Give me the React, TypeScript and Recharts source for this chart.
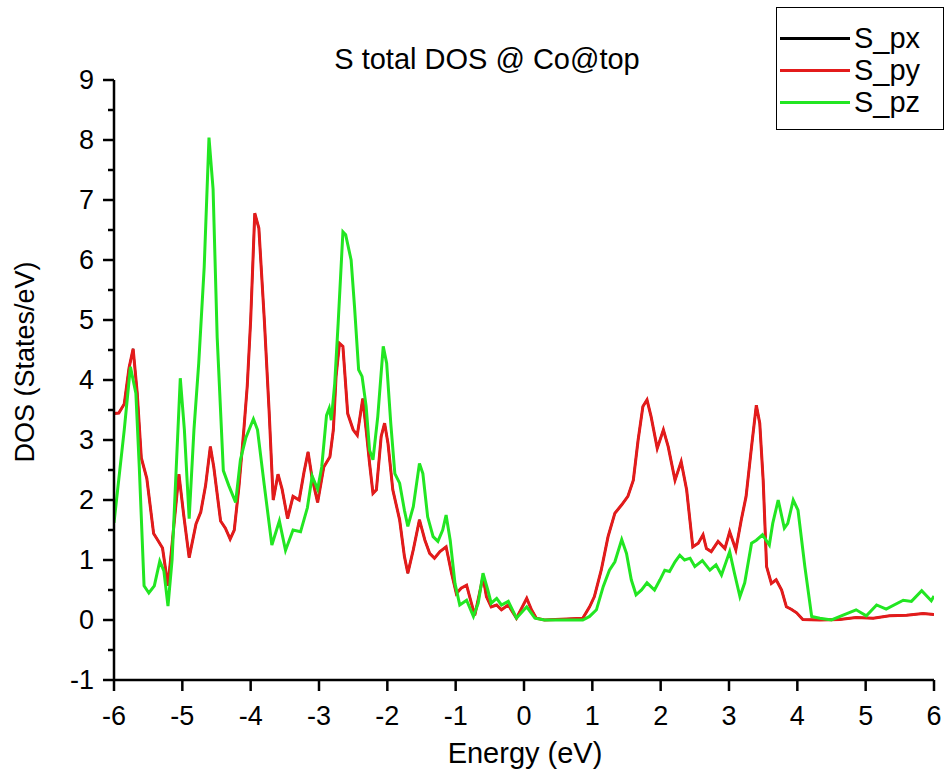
import { LineChart, Line, XAxis, YAxis, Label } from "recharts";

const FONT = "Arial, 'Liberation Sans', sans-serif";

const energyTicks = [-6, -5, -4, -3, -2, -1, 0, 1, 2, 3, 4, 5, 6];
const dosTicks = [-1, -0.5, 0, 0.5, 1, 1.5, 2, 2.5, 3, 3.5, 4, 4.5, 5, 5.5, 6, 6.5, 7, 7.5, 8, 8.5, 9];

const seriesNames = ["S_px", "S_py", "S_pz"];
const seriesColors = ["#000000", "#e31b1b", "#22e622"];
const seriesWidths = [2, 3, 3];

// S_py (red); S_px sits exactly underneath it
const pyEnergy = [
  -6.0, -5.93, -5.85, -5.78, -5.72, -5.66, -5.6, -5.52, -5.42, -5.37, -5.29, -5.21, -5.05, -4.98, -4.9,
  -4.8, -4.73, -4.66, -4.59, -4.54, -4.44, -4.37, -4.3, -4.24, -4.17, -4.1, -4.05, -4.0, -3.94, -3.88,
  -3.8, -3.73, -3.67, -3.6, -3.54, -3.46, -3.38, -3.29, -3.22, -3.16, -3.1, -3.02, -2.93, -2.84, -2.79,
  -2.75, -2.7, -2.65, -2.58, -2.5, -2.44, -2.36, -2.31, -2.26, -2.21, -2.16, -2.09, -2.04, -1.99, -1.92,
  -1.82, -1.75, -1.7, -1.62, -1.53, -1.45, -1.38, -1.31, -1.23, -1.14, -1.06, -0.99, -0.92, -0.84, -0.77,
  -0.72, -0.6, -0.55, -0.48, -0.4, -0.33, -0.23, -0.11, 0.04, 0.11, 0.18, 0.3, 0.86, 0.96, 1.03,
  1.13, 1.23, 1.33, 1.43, 1.52, 1.6, 1.67, 1.74, 1.8, 1.86, 1.95, 2.04, 2.11, 2.21, 2.3,
  2.38, 2.47, 2.55, 2.62, 2.67, 2.74, 2.84, 2.94, 3.01, 3.1, 3.18, 3.25, 3.33, 3.4, 3.45,
  3.5, 3.55, 3.62, 3.69, 3.77, 3.84, 3.91, 3.99, 4.08, 4.33, 4.62, 4.86, 5.11, 5.35, 5.6,
  5.84, 6.0,
];
const pyDos = [
  3.44, 3.45, 3.6, 4.2, 4.52, 3.78, 2.7, 2.36, 1.44, 1.35, 1.2, 0.57, 2.43, 1.75, 1.04,
  1.6, 1.8, 2.24, 2.89, 2.55, 1.65, 1.53, 1.35, 1.5, 2.24, 3.17, 3.9, 5.0, 6.78, 6.53,
  5.0, 3.48, 2.0, 2.43, 2.18, 1.69, 2.06, 2.0, 2.46, 2.8, 2.36, 1.96, 2.55, 2.72, 3.17,
  4.06, 4.61, 4.56, 3.44, 3.17, 3.08, 3.69, 3.17, 2.61, 2.11, 2.17, 3.06, 3.28, 2.94, 2.17,
  1.67, 1.06, 0.78, 1.17, 1.67, 1.33, 1.11, 1.03, 1.14, 1.22, 0.78, 0.44, 0.53, 0.58, 0.28,
  0.08, 0.72, 0.39, 0.22, 0.25, 0.17, 0.25, 0.03, 0.36, 0.17, 0.03, 0.0, 0.03, 0.22, 0.39,
  0.83, 1.39, 1.78, 1.92, 2.06, 2.33, 3.0, 3.56, 3.67, 3.39, 2.86, 3.17, 2.89, 2.33, 2.64,
  2.17, 1.22, 1.28, 1.42, 1.19, 1.14, 1.31, 1.19, 1.47, 1.17, 1.67, 2.06, 2.89, 3.58, 3.28,
  2.33, 0.89, 0.61, 0.67, 0.5, 0.22, 0.18, 0.12, 0.01, 0.0, 0.01, 0.04, 0.03, 0.07, 0.08,
  0.11, 0.09,
];

// S_pz (green)
const pzEnergy = [
  -6.0, -5.85, -5.76, -5.68, -5.63, -5.56, -5.49, -5.41, -5.33, -5.27, -5.21, -5.15, -5.03, -4.97, -4.9,
  -4.83, -4.76, -4.68, -4.61, -4.55, -4.49, -4.4, -4.32, -4.22, -4.15, -4.07, -3.96, -3.9, -3.8, -3.69,
  -3.58, -3.49, -3.38, -3.27, -3.17, -3.1, -3.02, -2.96, -2.89, -2.85, -2.82, -2.77, -2.72, -2.65, -2.61,
  -2.53, -2.48, -2.42, -2.37, -2.31, -2.26, -2.21, -2.14, -2.06, -2.01, -1.95, -1.89, -1.82, -1.75, -1.7,
  -1.62, -1.53, -1.48, -1.41, -1.33, -1.26, -1.19, -1.14, -1.08, -1.01, -0.94, -0.84, -0.74, -0.67, -0.6,
  -0.53, -0.48, -0.4, -0.33, -0.23, -0.11, 0.04, 0.16, 0.3, 0.86, 0.96, 1.06, 1.16, 1.25, 1.33,
  1.43, 1.5, 1.57, 1.64, 1.72, 1.8, 1.91, 1.99, 2.06, 2.13, 2.21, 2.28, 2.35, 2.43, 2.5,
  2.61, 2.72, 2.81, 2.89, 3.01, 3.08, 3.16, 3.23, 3.33, 3.4, 3.49, 3.59, 3.64, 3.72, 3.81,
  3.86, 3.94, 4.01, 4.11, 4.21, 4.33, 4.5, 4.67, 4.86, 5.01, 5.16, 5.3, 5.55, 5.67, 5.82,
  5.96, 6.0,
];
const pzDos = [
  1.62, 3.17, 4.22, 3.78, 2.55, 0.57, 0.45, 0.57, 0.98, 0.82, 0.23, 1.0, 4.03, 3.17, 1.69,
  3.17, 4.28, 5.88, 8.04, 7.18, 4.71, 2.49, 2.24, 1.96, 2.67, 3.04, 3.35, 3.17, 2.24, 1.25,
  1.65, 1.16, 1.5, 1.47, 1.87, 2.4, 2.18, 2.55, 3.41, 3.53, 3.33, 3.94, 4.94, 6.47, 6.42,
  6.0, 5.22, 4.17, 4.06, 3.56, 2.83, 2.67, 3.39, 4.56, 4.28, 3.28, 2.44, 2.28, 1.83, 1.56,
  1.89, 2.61, 2.44, 1.72, 1.39, 1.31, 1.5, 1.75, 1.33, 0.61, 0.25, 0.33, 0.06, 0.28, 0.78,
  0.5, 0.28, 0.36, 0.25, 0.31, 0.03, 0.22, 0.03, 0.0, 0.0, 0.06, 0.17, 0.56, 0.83, 0.97,
  1.34, 1.11, 0.67, 0.42, 0.5, 0.62, 0.5, 0.67, 0.83, 0.81, 0.97, 1.08, 1.0, 1.03, 0.89,
  0.99, 0.83, 0.92, 0.75, 1.14, 0.78, 0.39, 0.62, 1.28, 1.33, 1.42, 1.25, 1.61, 2.0, 1.53,
  1.61, 2.0, 1.83, 0.89, 0.06, 0.03, 0.0, 0.08, 0.17, 0.07, 0.25, 0.18, 0.33, 0.31, 0.49,
  0.32, 0.4,
];

const toPoints = (xs: number[], ys: number[]) => xs.map((e, i) => ({ energy: e, dos: ys[i] }));

const pxData = toPoints(pyEnergy, pyDos);
const pyData = toPoints(pyEnergy, pyDos);
const pzData = toPoints(pzEnergy, pzDos);
const seriesData = [pxData, pyData, pzData];

function YTick(props: any) {
  const { x, y, payload } = props;
  const major = Number.isInteger(payload.value);
  return (
    <g>
      <line x1={x - (major ? 11 : 6)} x2={x} y1={y} y2={y} stroke="#000" strokeWidth={2.5} />
      {major && (
        <text x={x - 20} y={y} textAnchor="end" dominantBaseline="central" fontSize={27} fontFamily={FONT} fill="#000">
          {payload.value}
        </text>
      )}
    </g>
  );
}

function XTick(props: any) {
  const { x, y, payload } = props;
  return (
    <g>
      <line x1={x} x2={x} y1={y} y2={y + 11} stroke="#000" strokeWidth={2.5} />
      <text x={x} y={y + 45} textAnchor="middle" fontSize={27} fontFamily={FONT} fill="#000">
        {payload.value}
      </text>
    </g>
  );
}

export default function App() {
  return (
    <div style={{ position: "absolute", left: 0, top: 0, width: 947, height: 775, background: "#fff" }}>
      <LineChart width={947} height={775} data={pyData} margin={{ top: 80, right: 13, bottom: 0, left: 0 }}>
        <XAxis
          type="number"
          dataKey="energy"
          domain={[-6, 6]}
          ticks={energyTicks}
          interval={0}
          allowDataOverflow
          height={95}
          tickSize={0}
          tickMargin={0}
          tickLine={false}
          axisLine={{ stroke: "#000", strokeWidth: 2.5 }}
          tick={<XTick />}
        >
          <Label
            content={() => (
              <text x={525} y={763} textAnchor="middle" fontSize={29} fontFamily={FONT} fill="#000">
                Energy (eV)
              </text>
            )}
          />
        </XAxis>
        <YAxis
          type="number"
          dataKey="dos"
          domain={[-1, 9]}
          ticks={dosTicks}
          interval={0}
          allowDataOverflow
          width={114}
          tickSize={0}
          tickMargin={0}
          tickLine={false}
          axisLine={{ stroke: "#000", strokeWidth: 2.5 }}
          tick={<YTick />}
        >
          <Label
            content={() => (
              <text
                x={25}
                y={362}
                transform="rotate(-90 25 362)"
                textAnchor="middle"
                dominantBaseline="central"
                fontSize={27}
                fontFamily={FONT}
                fill="#000"
              >
                DOS (States/eV)
              </text>
            )}
          />
        </YAxis>
        {seriesNames.map((name, i) => (
          <Line
            key={name}
            data={seriesData[i]}
            dataKey="dos"
            name={name}
            type="linear"
            stroke={seriesColors[i]}
            strokeWidth={seriesWidths[i]}
            dot={false}
            activeDot={false}
            isAnimationActive={false}
          />
        ))}
      </LineChart>
      <div
        style={{
          position: "absolute",
          left: 0,
          width: 974,
          top: 43,
          textAlign: "center",
          fontFamily: FONT,
          fontSize: 29,
          lineHeight: "32px",
          color: "#000",
          pointerEvents: "none",
        }}
      >
        S total DOS @ Co@top
      </div>
      <div
        style={{
          position: "absolute",
          left: 776,
          top: 7,
          width: 168,
          height: 123,
          border: "1.5px solid #000",
          boxSizing: "border-box",
          fontFamily: FONT,
          fontSize: 29,
          background: "#fff",
        }}
      >
        {seriesNames.map((name, i) => (
          <div key={name} style={{ position: "absolute", left: 3, top: 14 + i * 32, height: 32, display: "flex", alignItems: "center" }}>
            <span style={{ display: "inline-block", width: 70, height: 3, background: seriesColors[i] }} />
            <span style={{ marginLeft: 4 }}>{name}</span>
          </div>
        ))}
      </div>
    </div>
  );
}
